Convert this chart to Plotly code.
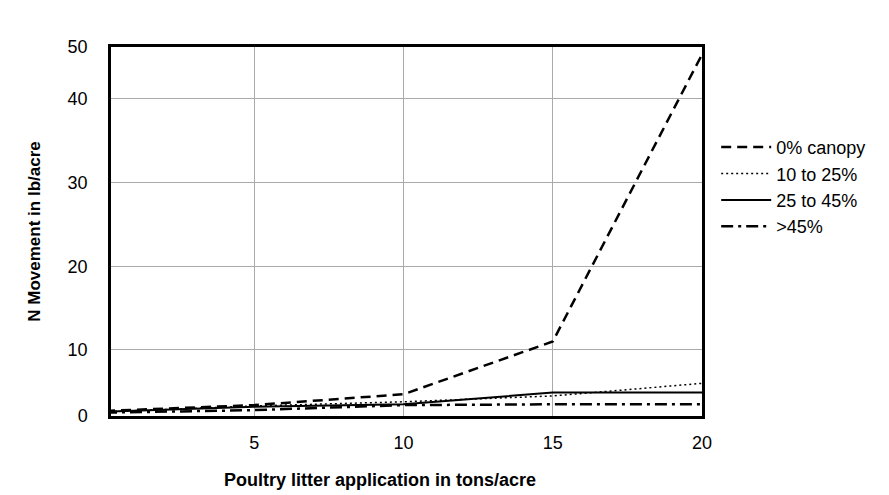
import plotly.graph_objects as go

x_vals = [0, 5, 10, 15, 20]
canopy_0 = [2.7, 3.4, 4.7, 11.0, 45.3]
canopy_10_25 = [2.6, 3.3, 3.8, 4.5, 6.0]
canopy_25_45 = [2.6, 3.2, 3.5, 4.9, 4.9]
canopy_45 = [2.5, 2.8, 3.4, 3.5, 3.5]
series_names = ["0% canopy", "10 to 25%", "25 to 45%", ">45%"]

y_lo, y_hi = 2.1, 46.2
y_tickvals = [y_lo, 10, 20, 30, 40, y_hi]
y_ticktext = ["0", "10", "20", "30", "40", "50"]
x_tickvals = [5, 10, 15, 20]
x_ticktext = ["5", "10", "15", "20"]
x_title = "Poultry litter application in tons/acre"
y_title = "N Movement in lb/acre"

fig = go.Figure()
styles = [
    dict(dash="10px,6px", width=2.5),
    dict(dash="2px,3px", width=1.5),
    dict(dash="solid", width=2),
    dict(dash="12px,5px,3px,5px", width=2.5),
]
for name, ys, st in zip(series_names, [canopy_0, canopy_10_25, canopy_25_45, canopy_45], styles):
    fig.add_trace(go.Scatter(x=x_vals, y=ys, mode="lines", name=name,
                             line=dict(color="black", **st)))

font_family = "Liberation Sans, Arial, sans-serif"
fig.update_layout(
    width=889, height=495,
    margin=dict(l=103, r=195, t=39, b=87),
    plot_bgcolor="white", paper_bgcolor="white",
    font=dict(family=font_family, size=16, color="black"),
    showlegend=True,
    legend=dict(x=1.024, y=0.778, xanchor="left", yanchor="top",
                font=dict(size=18), bgcolor="rgba(0,0,0,0)",
                tracegroupgap=0, itemwidth=50),
    xaxis=dict(range=[0.2, 20], tickvals=x_tickvals, ticktext=x_ticktext,
               showgrid=True, gridcolor="#aaaaaa", gridwidth=1,
               showline=True, linecolor="black", linewidth=2.5, mirror=True,
               ticks="", zeroline=False, ticklabelstandoff=9,
               tickfont=dict(size=18)),
    yaxis=dict(range=[y_lo, y_hi], tickvals=y_tickvals, ticktext=y_ticktext,
               showgrid=True, gridcolor="#aaaaaa", gridwidth=1,
               showline=True, linecolor="black", linewidth=2.5, mirror=True,
               ticks="", zeroline=False, ticklabelstandoff=17,
               tickfont=dict(size=18),
               title=dict(text="<b>" + y_title + "</b>",
                          font=dict(size=17), standoff=23)),
    annotations=[dict(text="<b>" + x_title + "</b>", xref="paper", yref="paper",
                      x=0.455, y=-0.173, xanchor="center", yanchor="middle",
                      showarrow=False, font=dict(size=18))],
)

fig.write_html("out.html")
